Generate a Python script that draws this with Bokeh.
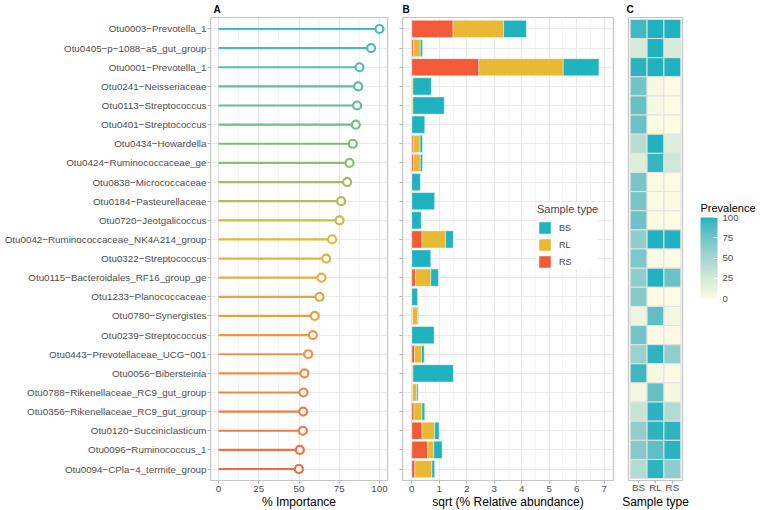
import numpy as np
from bokeh.plotting import figure
from bokeh.models import (ColumnDataSource, Range1d, FixedTicker, Legend, LegendItem,
                          LinearColorMapper, ColorBar)
from bokeh.core.properties import value
from bokeh.layouts import row
from bokeh.embed import file_html
from bokeh.resources import INLINE

# ---------------- data ----------------
otus = [
    "Otu0003−Prevotella_1", "Otu0405−p−1088−a5_gut_group", "Otu0001−Prevotella_1",
    "Otu0241−Neisseriaceae", "Otu0113−Streptococcus", "Otu0401−Streptococcus",
    "Otu0434−Howardella", "Otu0424−Ruminococcaceae_ge", "Otu0838−Micrococcaceae",
    "Otu0184−Pasteurellaceae", "Otu0720−Jeotgalicoccus", "Otu0042−Ruminococcaceae_NK4A214_group",
    "Otu0322−Streptococcus", "Otu0115−Bacteroidales_RF16_group_ge", "Otu1233−Planococcaceae",
    "Otu0780−Synergistes", "Otu0239−Streptococcus", "Otu0443−Prevotellaceae_UCG−001",
    "Otu0056−Bibersteinia", "Otu0788−Rikenellaceae_RC9_gut_group", "Otu0356−Rikenellaceae_RC9_gut_group",
    "Otu0120−Succiniclasticum", "Otu0096−Ruminococcus_1", "Otu0094−CPla−4_termite_group",
]
importance = [100.0, 94.8, 87.6, 86.8, 86.1, 85.3, 83.4, 81.4, 79.9, 76.2, 75.2, 70.6,
              66.9, 64.0, 62.7, 59.8, 58.6, 55.7, 53.4, 52.8, 52.6, 52.4, 50.5, 49.9]

sample_types = ["BS", "RL", "RS"]
# sqrt(% relative abundance), stacked segments
abund_rs = [1.50, 0.06, 2.44, 0.00, 0.00, 0.00, 0.05, 0.06, 0.00, 0.00, 0.00, 0.37,
            0.00, 0.13, 0.00, 0.02, 0.00, 0.10, 0.02, 0.02, 0.08, 0.37, 0.58, 0.11]
abund_rl = [1.84, 0.25, 3.07, 0.04, 0.04, 0.00, 0.25, 0.25, 0.00, 0.00, 0.00, 0.86,
            0.00, 0.56, 0.00, 0.19, 0.00, 0.25, 0.02, 0.16, 0.29, 0.46, 0.22, 0.62]
abund_bs = [0.83, 0.08, 1.30, 0.67, 1.14, 0.47, 0.09, 0.08, 0.31, 0.83, 0.34, 0.28,
            0.69, 0.28, 0.21, 0.03, 0.81, 0.10, 1.47, 0.05, 0.10, 0.16, 0.30, 0.10]

# prevalence (%)
prev_bs = [92, 22, 98, 75, 80, 78, 40, 18, 72, 73, 77, 62, 70, 62, 66, 10, 74, 57, 93, 7, 32, 60, 66, 43]
prev_rl = [100, 100, 100, 5, 4, 0, 100, 95, 0, 0, 0, 100, 0, 100, 0, 83, 0, 97, 5, 80, 98, 98, 83, 97]
prev_rs = [100, 22, 100, 0, 0, 0, 18, 28, 0, 1, 0, 100, 0, 78, 0, 6, 0, 60, 1, 5, 43, 97, 98, 62]

x_ticks_a = [0, 25, 50, 75, 100]
x_ticks_b = [0, 1, 2, 3, 4, 5, 6, 7]
prev_ticks = [0, 25, 50, 75, 100]
panel_tags = ["A", "B", "C"]

# ---------------- styles ----------------
FONT = "Liberation Sans"
C_BS, C_RL, C_RS = "#20B2BE", "#E7B935", "#F25A38"
GRID = "#E9E9E9"
MINOR = "#F4F4F4"
BORDER = "#C4C4C4"
TICK = "#B3B3B3"
TXT = "#4D4D4D"


def hex2rgb(h):
    return np.array([int(h[i:i + 2], 16) for i in (1, 3, 5)], dtype=float)


def rgb2hex(c):
    c = np.clip(np.round(c), 0, 255).astype(int)
    return "#%02X%02X%02X" % tuple(c)


_M = np.array([[0.4124, 0.3576, 0.1805], [0.2126, 0.7152, 0.0722], [0.0193, 0.1192, 0.9505]])
_Mi = np.linalg.inv(_M)
_W = np.array([0.95047, 1.0, 1.08883])


def _lin(c):
    c = c / 255.0
    return np.where(c <= 0.04045, c / 12.92, ((c + 0.055) / 1.055) ** 2.4)


def _delin(c):
    c = np.clip(c, 0, 1)
    return 255 * np.where(c <= 0.0031308, 12.92 * c, 1.055 * c ** (1 / 2.4) - 0.055)


def _f(t):
    d = 6 / 29
    return np.where(t > d ** 3, np.cbrt(t), t / (3 * d * d) + 4 / 29)


def _fi(t):
    d = 6 / 29
    return np.where(t > d, t ** 3, 3 * d * d * (t - 4 / 29))


def rgb2lab(rgb):
    xyz = _M @ _lin(rgb) / _W
    fx, fy, fz = _f(xyz)
    return np.array([116 * fy - 16, 500 * (fx - fy), 200 * (fy - fz)])


def lab2rgb(lab):
    L, a, b = lab
    fy = (L + 16) / 116
    xyz = np.array([_fi(fy + a / 500), _fi(fy), _fi(fy - b / 200)]) * _W
    return _delin(_Mi @ xyz)


lab_lo, lab_hi = rgb2lab(hex2rgb("#FEFBE2")), rgb2lab(hex2rgb(C_BS))
palette = [rgb2hex(lab2rgb(lab_lo + (lab_hi - lab_lo) * t)) for t in np.linspace(0, 1, 256)]

n = len(otus)
ypos = list(range(n, 0, -1))
label_map = {y: o for y, o in zip(ypos, otus)}

# lollipop colour ramp by rank
anchors_i = [0, 6, 11, 17, n - 1]
anchors_c = [hex2rgb(h) for h in ["#3EBCC8", "#78BE7A", "#DFB93C", "#F59040", "#EF6A45"]]
lolli_cols = []
for i in range(n):
    c = np.array([np.interp(i, anchors_i, [a[k] for a in anchors_c]) for k in range(3)])
    lolli_cols.append(rgb2hex(c))

H = 463


def style(p, xticks, minor=None):
    p.outline_line_color = BORDER
    p.outline_line_width = 1.2
    p.background_fill_color = "white"
    p.border_fill_color = "white"
    for ax in (p.xaxis[0], p.yaxis[0]):
        ax.axis_line_color = None
        ax.major_tick_line_color = TICK
        ax.major_tick_out = 3
        ax.major_tick_in = 0
        ax.minor_tick_line_color = None
        ax.major_label_text_font = FONT
        ax.major_label_text_font_size = "9.8px"
        ax.major_label_text_color = TXT
        ax.axis_label_text_font = FONT
        ax.axis_label_text_font_size = "12px"
        ax.axis_label_text_font_style = "normal"
        ax.axis_label_text_color = "black"
        ax.major_label_standoff = 1
        ax.axis_label_standoff = 0
    p.xaxis.ticker = FixedTicker(ticks=xticks, minor_ticks=minor or [])
    p.yaxis.ticker = FixedTicker(ticks=ypos)
    p.xgrid.grid_line_color = GRID
    p.ygrid.grid_line_color = GRID
    p.xgrid.minor_grid_line_color = MINOR if minor else None


def tag(p, dx):
    p.title.align = "left"
    p.title.offset = dx
    p.title.vertical_align = "top"
    p.title.standoff = 2
    p.title.text_font = FONT
    p.title.text_font_size = "10px"
    p.title.text_font_style = "bold"
    p.title.text_color = "black"


common = dict(frame_height=H, output_backend="svg", toolbar_location=None,
              min_border_top=17, min_border_bottom=30)

# ---------------- panel A ----------------
pA = figure(frame_width=177, x_range=Range1d(-5, 105), y_range=Range1d(0.4, n + 0.6),
            min_border_left=210, min_border_right=8, title=panel_tags[0], **common)
style(pA, x_ticks_a, [12.5, 37.5, 62.5, 87.5])
tag(pA, 3)
pA.yaxis.major_label_overrides = label_map
pA.xaxis.axis_label = "% Importance"
srcA = ColumnDataSource(dict(y=ypos, imp=importance, zero=[0] * n, col=lolli_cols))
pA.segment(x0="zero", y0="y", x1="imp", y1="y", line_color="col", line_width=2.2, source=srcA)
pA.scatter(x="imp", y="y", size=8, fill_color="white", line_color="col", line_width=2.2, source=srcA)

# ---------------- panel B ----------------
pB = figure(frame_width=211, x_range=Range1d(-0.34, 7.34), y_range=Range1d(0.4, n + 0.6),
            min_border_left=7, min_border_right=6, title=panel_tags[1], **common)
style(pB, x_ticks_b, [0.5, 1.5, 2.5, 3.5, 4.5, 5.5, 6.5])
tag(pB, 0)
pB.yaxis.major_label_overrides = {y: "" for y in ypos}
pB.yaxis.major_label_standoff = 0
pB.xaxis.axis_label = "sqrt (% Relative abundance)"
srcB = ColumnDataSource(dict(y=ypos, RS=abund_rs, RL=abund_rl, BS=abund_bs))
rends = pB.hbar_stack(["RS", "RL", "BS"], y="y", height=0.9,
                      fill_color=[C_RS, C_RL, C_BS], line_color="white",
                      line_alpha=0.55, line_width=0.8, source=srcB)
rmap = {"RS": rends[0], "RL": rends[1], "BS": rends[2]}
legend = Legend(items=[LegendItem(label=s, renderers=[rmap[s]]) for s in sample_types],
                location=(135, 211), title="Sample type",
                glyph_width=15, glyph_height=15, label_height=15, spacing=2,
                padding=6, margin=0, label_standoff=7,
                label_text_font=FONT, label_text_font_size="9px",
                title_text_font=FONT, title_text_font_size="11px",
                title_text_font_style="normal", title_standoff=5,
                border_line_color=None, background_fill_color="white", background_fill_alpha=1)
pB.add_layout(legend)

# ---------------- panel C ----------------
pC = figure(frame_width=54, x_range=Range1d(0.4, 3.6), y_range=Range1d(0.4, n + 0.6),
            min_border_left=9, min_border_right=9, title=panel_tags[2], **common)
style(pC, [1, 2, 3])
tag(pC, -2)
pC.xaxis.major_label_overrides = {i + 1: s for i, s in enumerate(sample_types)}
pC.xaxis.axis_label = "Sample type"
pC.xaxis.major_label_standoff = -2
pC.xaxis.axis_label_standoff = -1
pC.yaxis.visible = False
pC.xgrid.grid_line_color = None
pC.ygrid.grid_line_color = None
cx, cy, cv = [], [], []
for j, vals in enumerate([prev_bs, prev_rl, prev_rs]):
    for y, v in zip(ypos, vals):
        cx.append(j + 1)
        cy.append(y)
        cv.append(v)
mapper = LinearColorMapper(palette=palette, low=0, high=100)
srcC = ColumnDataSource(dict(x=cx, y=cy, v=cv))
pC.rect(x="x", y="y", width=1, height=1, fill_color={"field": "v", "transform": mapper},
        line_color="#E2E2E2", line_width=1, source=srcC)

# ---------------- colour bar (own pixel-space panel) ----------------
DW = 66
pD = figure(frame_width=DW, x_range=Range1d(0, DW), y_range=Range1d(0, H),
            min_border_left=0, min_border_right=0, **common)
pD.axis.visible = False
pD.grid.grid_line_color = None
pD.outline_line_color = None
pD.background_fill_color = "white"
pD.border_fill_color = "white"
cb = ColorBar(color_mapper=mapper, ticker=FixedTicker(ticks=prev_ticks),
              orientation="vertical", width=17, height=81, location=(9, 182),
              padding=0, margin=0, label_standoff=5,
              major_label_text_font=FONT, major_label_text_font_size="9.6px",
              major_label_text_color=TXT,
              major_tick_line_color="white", major_tick_in=4, major_tick_out=0,
              minor_tick_line_color=None,
              bar_line_color=None, border_line_color=None, background_fill_alpha=0)
pD.add_layout(cb)
pD.text(x=[9], y=[273], text=["Prevalence"], text_font=value(FONT), text_font_size="11px",
        text_color="black", text_baseline="alphabetic", text_align="left")

root = row(pA, pB, pC, pD, spacing=0)

open("out.html", "w").write(file_html(root, INLINE))
